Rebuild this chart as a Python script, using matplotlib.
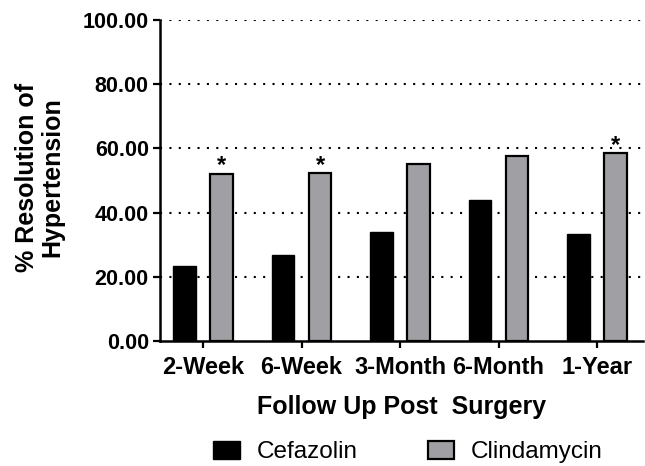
import numpy as np
import matplotlib.pyplot as plt
from matplotlib.patches import Patch

plt.rcParams['font.family'] = ['Liberation Sans', 'DejaVu Sans']

periods = ['2-Week', '6-Week', '3-Month', '6-Month', '1-Year']
cefazolin = [23.4, 26.8, 34.0, 43.9, 33.3]
clindamycin = [52.2, 52.3, 55.3, 57.6, 58.6]
significant = [True, True, False, False, True]
yticks = [0, 20, 40, 60, 80, 100]

fig = plt.figure(figsize=(6.45, 4.66), dpi=100)
ax = fig.add_axes([0.248, 0.268, 0.749, 0.689])

x = np.arange(len(periods))
off = 0.188
w = 0.225
ax.bar(x - off, cefazolin, w, color='black', edgecolor='black', linewidth=1.0, zorder=3)
ax.bar(x + off, clindamycin, w, color='#a0a0a4', edgecolor='black', linewidth=1.6, zorder=3)

# significance markers
for xi, v, s in zip(x, clindamycin, significant):
    if s:
        ax.text(xi + off, v - 1.2, '*', ha='center', va='bottom', fontsize=17,
                fontweight='bold', zorder=4)

for y in yticks[1:]:
    ax.axhline(y, color='black', linestyle=(0, (1, 3.5)), linewidth=1.5, zorder=1)

ax.set_ylim(0, 100)
ax.set_xlim(-0.437, 4.467)
ax.set_yticks(yticks)
ax.set_yticklabels(['%.2f' % v for v in yticks], fontsize=15.5, fontweight='bold')
ax.set_xticks(x)
ax.set_xticklabels(periods, fontsize=17, fontweight='bold')
ax.tick_params(axis='both', width=1.6, length=5, pad=3)
ax.tick_params(axis='x', pad=6)

for side in ['top', 'right']:
    ax.spines[side].set_visible(False)
for side in ['left', 'bottom']:
    ax.spines[side].set_linewidth(1.8)

ax.set_ylabel('% Resolution of\nHypertension', fontsize=18, fontweight='bold',
              linespacing=1.1)
ax.yaxis.set_label_coords(-0.197, 0.51)
ax.set_xlabel('Follow Up Post  Surgery', fontsize=18, fontweight='bold', labelpad=11)

handles = [Patch(facecolor='black', edgecolor='black', label='Cefazolin'),
           Patch(facecolor='#a0a0a4', edgecolor='black', linewidth=1.6, label='Clindamycin')]
fig.legend(handles=handles, loc='center left', bbox_to_anchor=(213 / 645, 1 - 452 / 466),
           ncol=2, frameon=False, fontsize=17.5, handlelength=1.1, handleheight=0.8,
           columnspacing=2.9, handletextpad=0.68, borderpad=0, borderaxespad=0)

fig.savefig('out.png', dpi=100)
